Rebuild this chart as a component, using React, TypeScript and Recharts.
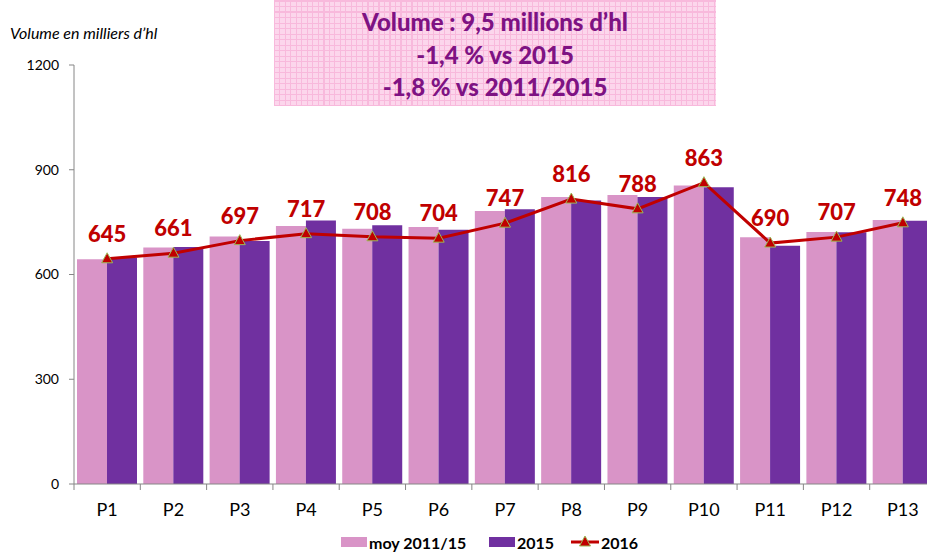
import { ComposedChart, Bar, Line, XAxis, YAxis, Legend, LabelList } from 'recharts';

// Volumes en milliers d'hl par période
const periods = ['P1', 'P2', 'P3', 'P4', 'P5', 'P6', 'P7', 'P8', 'P9', 'P10', 'P11', 'P12', 'P13'];
const moy2011_15 = [644, 677, 709, 739, 731, 736, 782, 822, 828, 855, 707, 722, 756];
const vol2015 = [649, 679, 696, 755, 741, 728, 787, 812, 822, 850, 682, 721, 754];
const vol2016 = [645, 661, 697, 717, 708, 704, 747, 816, 788, 863, 690, 707, 748];
const yTicks = [0, 300, 600, 900, 1200];

const data = periods.map((p, i) => ({
  period: p,
  moy: moy2011_15[i],
  v2015: vol2015[i],
  v2016: vol2016[i],
}));

const FONT = 'Lato, "Open Sans", sans-serif';
const PINK = '#D994C7';
const PURPLE = '#7030A0';
const RED = '#C00000';
const AXIS = '#868686';

const CHART_W = 950;
const CHART_H = 554;
const MARGIN = { top: 65, right: 14, bottom: 0, left: 0 };
const Y_W = 74;
const BAND = (CHART_W - Y_W - MARGIN.right) / periods.length;

function PeriodTick(props: any) {
  const { x, y, payload, index } = props;
  const axisY = y - 19;
  return (
    <g>
      <line x1={x - BAND / 2} x2={x - BAND / 2} y1={axisY} y2={axisY + 6} stroke={AXIS} />
      {index === periods.length - 1 && (
        <line x1={x + BAND / 2} x2={x + BAND / 2} y1={axisY} y2={axisY + 6} stroke={AXIS} />
      )}
      <text x={x} y={y} dy="0.71em" textAnchor="middle" fontSize={18} fontFamily={FONT} fill="#000">
        {payload.value}
      </text>
    </g>
  );
}

function Triangle(props: any) {
  const { cx, cy } = props;
  if (cx == null || cy == null) return null;
  return (
    <polygon
      points={`${cx},${cy - 6} ${cx - 5.5},${cy + 4} ${cx + 5.5},${cy + 4}`}
      fill={RED}
      stroke="#9BBB59"
      strokeWidth={1}
    />
  );
}

function renderLegend() {
  const txt = { position: 'absolute' as const, top: 9, fontSize: 16, lineHeight: '19px', fontWeight: 700, fontFamily: FONT, color: '#000', whiteSpace: 'nowrap' as const };
  return (
    <div style={{ position: 'relative', height: 30, width: CHART_W }}>
      <div style={{ position: 'absolute', left: 341, top: 13, width: 26, height: 10, background: PINK }} />
      <span style={{ ...txt, left: 369 }}>moy 2011/15</span>
      <div style={{ position: 'absolute', left: 489, top: 13, width: 26, height: 10, background: PURPLE }} />
      <span style={{ ...txt, left: 517 }}>2015</span>
      <svg style={{ position: 'absolute', left: 571, top: 11 }} width={28} height={14}>
        <line x1={0} x2={28} y1={7} y2={7} stroke={RED} strokeWidth={3} />
        <polygon points="14,1 8.5,11 19.5,11" fill={RED} stroke="#9BBB59" strokeWidth={1} />
      </svg>
      <span style={{ ...txt, left: 601 }}>2016</span>
    </div>
  );
}

export default function App() {
  return (
    <div style={{ position: 'absolute', left: 0, top: 0, width: 927, height: 554, overflow: 'hidden', background: '#fff' }}>
      <div
        style={{
          position: 'absolute',
          left: 10,
          top: 23,
          fontFamily: FONT,
          fontStyle: 'italic',
          fontSize: 16,
          lineHeight: '19px',
          color: '#000',
          whiteSpace: 'nowrap',
        }}
      >
        Volume en milliers d’hl
      </div>

      <div
        style={{
          position: 'absolute',
          left: 274,
          top: 0,
          width: 442,
          height: 106,
          boxSizing: 'border-box',
          paddingTop: 6,
          backgroundColor: '#FCD6EC',
          backgroundImage:
            'repeating-linear-gradient(0deg, #F8B9DC 0px, #F8B9DC 1px, transparent 1px, transparent 5.5px), repeating-linear-gradient(90deg, #F8B9DC 0px, #F8B9DC 1px, transparent 1px, transparent 5.5px)',
          textAlign: 'center',
          fontFamily: FONT,
          fontWeight: 900,
          fontSize: 24,
          lineHeight: '32.5px',
          color: '#7E1283',
          whiteSpace: 'nowrap',
        }}
      >
        <div>Volume : 9,5 millions d’hl</div>
        <div>-1,4 % vs 2015</div>
        <div>-1,8 % vs 2011/2015</div>
      </div>

      <ComposedChart
        width={CHART_W}
        height={CHART_H}
        data={data}
        margin={MARGIN}
        barCategoryGap={3}
        barGap={0}
        style={{ position: 'absolute', left: 0, top: 0 }}
      >
        <XAxis
          dataKey="period"
          height={40}
          interval={0}
          stroke={AXIS}
          tickLine={false}
          tickSize={6}
          tickMargin={13}
          tick={<PeriodTick />}
        />
        <YAxis
          width={Y_W}
          domain={[0, 1200]}
          ticks={yTicks}
          stroke={AXIS}
          tickSize={5}
          tickMargin={10}
          tick={{ fill: '#000', fontSize: 14, fontFamily: FONT }}
        />
        <Legend
          verticalAlign="bottom"
          align="left"
          wrapperStyle={{ height: 30, left: 0, width: CHART_W }}
          content={renderLegend}
        />
        <Bar dataKey="moy" name="moy 2011/15" fill={PINK} isAnimationActive={false} />
        <Bar dataKey="v2015" name="2015" fill={PURPLE} isAnimationActive={false} />
        <Line
          dataKey="v2016"
          name="2016"
          type="linear"
          stroke={RED}
          strokeWidth={3}
          dot={<Triangle />}
          activeDot={false}
          isAnimationActive={false}
        >
          <LabelList
            dataKey="v2016"
            position="top"
            offset={17}
            fill={RED}
            fontSize={22}
            fontWeight={900}
            fontFamily={FONT}
          />
        </Line>
      </ComposedChart>
    </div>
  );
}
